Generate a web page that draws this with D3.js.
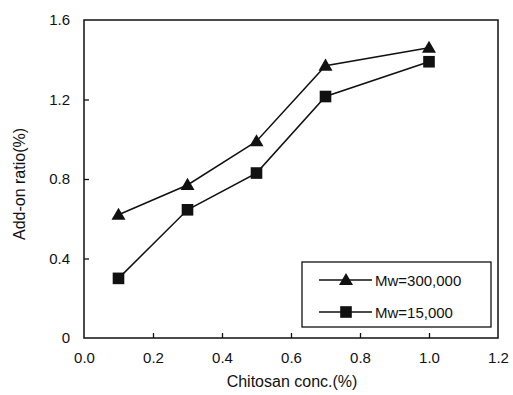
<!DOCTYPE html>
<html><head><meta charset="utf-8">
<script src="https://cdn.jsdelivr.net/npm/d3@7"></script>
<style>body{margin:0;background:#fff}svg{display:block}text{font-family:"Liberation Sans",Arial,sans-serif;fill:#111}</style>
</head><body><svg id="c" width="513" height="395"></svg>
<script>
const xValues = [0.1, 0.3, 0.5, 0.7, 1.0];
const seriesNames = ["Mw=300,000", "Mw=15,000"];
const mw300000 = [0.62, 0.77, 0.99, 1.37, 1.46];
const mw15000 = [0.30, 0.645, 0.83, 1.215, 1.39];
const xTicks = [0, 0.2, 0.4, 0.6, 0.8, 1.0, 1.2];
const yTicks = [0, 0.4, 0.8, 1.2, 1.6];
const xLabel = "Chitosan conc.(%)";
const yLabel = "Add-on ratio(%)";

const svg = d3.select("#c");
const L = 84, R = 498, T = 20, B = 338;
const x = d3.scaleLinear().domain([0, 1.2]).range([L, R]);
const y = d3.scaleLinear().domain([0, 1.6]).range([B, T]);

svg.append("rect").attr("x", L).attr("y", T).attr("width", R - L).attr("height", B - T)
  .attr("fill", "none").attr("stroke", "#111").attr("stroke-width", 1.5);

const xa = svg.append("g").attr("transform", `translate(0,${B})`)
  .call(d3.axisBottom(x).tickValues(xTicks).tickSize(-5).tickPadding(14).tickFormat(d3.format(".1f")));
const ya = svg.append("g").attr("transform", `translate(${L},0)`)
  .call(d3.axisLeft(y).tickValues(yTicks).tickSize(-5).tickPadding(14).tickFormat(d => d === 0 ? "0" : d3.format(".1f")(d)));
[xa, ya].forEach(g => {
  g.select(".domain").remove();
  g.selectAll("line").attr("stroke", "#111").attr("stroke-width", 1.3);
  g.selectAll("text").attr("font-size", 15).attr("fill", "#111").style("font-family", '"Liberation Sans",Arial,sans-serif');
});
xa.selectAll("line").filter(d => d === 0 || d === 1.2).remove();
ya.selectAll("line").filter(d => d === 0 || d === 1.6).remove();

svg.append("text").attr("x", 292).attr("y", 387).attr("text-anchor", "middle").attr("font-size", 16).text(xLabel);
svg.append("text").attr("transform", "translate(25,184) rotate(-90)").attr("text-anchor", "middle").attr("font-size", 16).text(yLabel);

const line = d3.line().x((d, i) => x(xValues[i])).y(d => y(d));
const tri = d3.symbol().type(d3.symbolTriangle).size(85);
const sq = d3.symbol().type(d3.symbolSquare).size(135);
const series = [{v: mw300000, sym: tri}, {v: mw15000, sym: sq}];
series.forEach(s => {
  svg.append("path").attr("d", line(s.v)).attr("fill", "none").attr("stroke", "#111").attr("stroke-width", 1.5);
  svg.selectAll(null).data(s.v).enter().append("path")
    .attr("d", s.sym)
    .attr("transform", (d, i) => `translate(${x(xValues[i])},${y(d) + (s.sym === tri ? 1 : 0)})`)
    .attr("fill", "#111");
});

const lg = svg.append("g");
lg.append("rect").attr("x", 302).attr("y", 262).attr("width", 189).attr("height", 65)
  .attr("fill", "#fff").attr("stroke", "#111").attr("stroke-width", 1.3);
series.forEach((s, i) => {
  const yy = 280 + i * 32;
  lg.append("line").attr("x1", 319).attr("x2", 372).attr("y1", yy).attr("y2", yy).attr("stroke", "#111").attr("stroke-width", 1.5);
  lg.append("path").attr("d", s.sym).attr("transform", `translate(346,${yy + (i === 0 ? 1 : 0)})`).attr("fill", "#111");
  lg.append("text").attr("x", 375).attr("y", yy + 5.5).attr("font-size", 15).text(seriesNames[i]);
});
</script></body></html>
